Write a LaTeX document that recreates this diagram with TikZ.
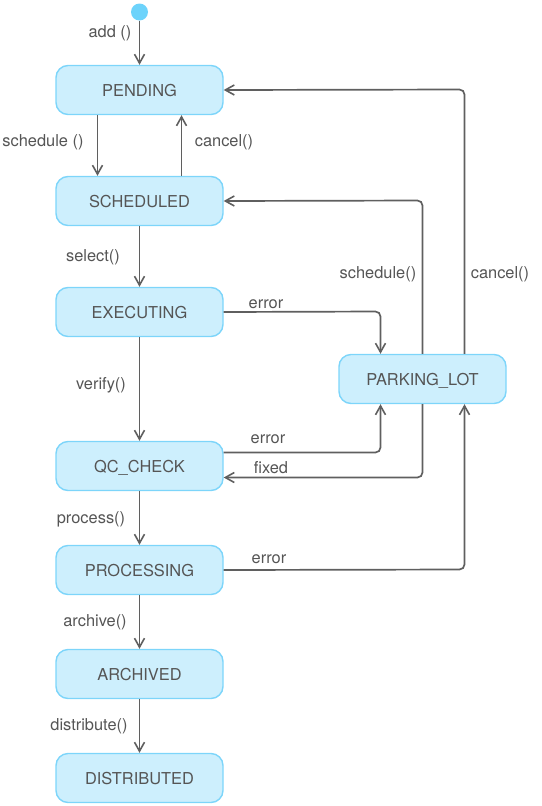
\documentclass[tikz,border=0pt]{standalone}
\usepackage{fontspec}
\setmainfont{TeX Gyre Heros}
\usetikzlibrary{arrows.meta}
\definecolor{boxfill}{HTML}{CDEFFD}
\definecolor{boxdraw}{HTML}{7DD5FA}
\definecolor{txt}{HTML}{555555}
\definecolor{ln}{HTML}{5F5F5F}
\definecolor{startc}{HTML}{6DD3FB}
\begin{document}
\begin{tikzpicture}[x=1pt,y=-1pt,
  state/.style={draw=boxdraw, fill=boxfill, line width=1.4pt, rounded corners=12pt,
    minimum width=167pt, minimum height=49pt, inner sep=0pt, text=txt,
    font=\fontsize{16.4}{18}\selectfont, text depth=0pt, yshift=-0.5pt},
  tr/.style={draw=ln, line width=1.7pt, rounded corners=5pt,
    -{Straight Barb[length=9pt,width=10pt,line width=1.6pt]}},
  lbl/.style={text=txt, font=\fontsize{16.4}{18}\selectfont, inner sep=0pt, yshift=-2pt}]
\useasboundingbox (0,0) rectangle (541,806);
\node[circle, fill=startc, minimum size=17pt, inner sep=0pt] (start) at (139.5,12) {};
\node[state] (pend) at (139.5,89.5) {PENDING};
\node[state] (sched) at (139.5,200.5) {SCHEDULED};
\node[state] (exec) at (139.5,311.5) {EXECUTING};
\node[state] (qc) at (139.5,465.5) {QC\_CHECK};
\node[state] (proc) at (139.5,569.5) {PROCESSING};
\node[state] (arch) at (139.5,673.5) {ARCHIVED};
\node[state] (dist) at (139.5,777.5) {DISTRIBUTED};
\node[state] (park) at (422.5,378.5) {PARKING\_LOT};
% vertical chain
\draw[tr] (start) -- (pend);
\node[lbl] at (110,31) {add ()};
\draw[tr] (pend.south -| 97.5,0) -- (sched.north -| 97.5,0);
\node[lbl] at (43,140) {schedule ()};
\draw[tr] (sched.north -| 181.5,0) -- (pend.south -| 181.5,0);
\node[lbl] at (224,140) {cancel()};
\draw[tr] (sched) -- (exec);
\node[lbl] at (93,255) {select()};
\draw[tr] (exec) -- (qc);
\node[lbl] at (101,383) {verify()};
\draw[tr] (qc) -- (proc);
\node[lbl] at (91,517) {process()};
\draw[tr] (proc) -- (arch);
\node[lbl] at (95,620) {archive()};
\draw[tr] (arch) -- (dist);
\node[lbl] at (89,724) {distribute()};
% parking lot connections
\draw[tr] (exec.east) -- (380.5,311.5) -- (park.north -| 380.5,0);
\node[lbl] at (266,302) {error};
\draw[tr] (qc.east |- 0,452.5) -- (380.5,452.5) -- (park.south -| 380.5,0);
\node[lbl] at (268,437) {error};
\draw[tr] (park.south -| 422.5,0) -- (422.5,477.5) -- (qc.east |- 0,477.5);
\node[lbl] at (271,466) {fixed};
\draw[tr] (park.north -| 422.5,0) -- (422.5,200.5) -- (sched.east);
\node[lbl] at (378,272) {schedule()};
\draw[tr] (park.north -| 464.5,0) -- (464.5,89.5) -- (pend.east);
\node[lbl] at (500,272) {cancel()};
\draw[tr] (proc.east) -- (464.5,569.5) -- (park.south -| 464.5,0);
\node[lbl] at (269,557) {error};
\end{tikzpicture}
\end{document}
